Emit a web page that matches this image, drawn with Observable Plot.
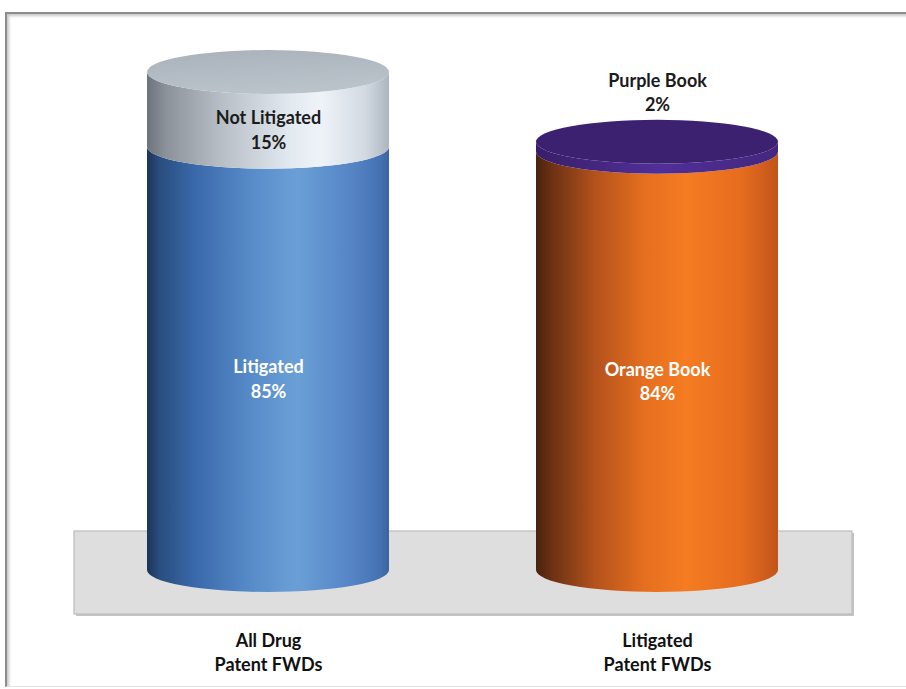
<!DOCTYPE html>
<html><head><meta charset="utf-8">
<script src="https://cdn.jsdelivr.net/npm/d3@7"></script>
<script src="https://cdn.jsdelivr.net/npm/@observablehq/plot@0.6"></script>
<style>
html,body{margin:0;padding:0;background:#fff;}
#wrap{position:relative;width:906px;height:689px;overflow:hidden;}
#frame{position:absolute;left:5px;top:12px;width:1000px;height:672px;border-top:2px solid #8c8c8c;border-left:2px solid #8c8c8c;border-bottom:1px solid #e2e2e2;box-shadow:inset 2px 2px 3px rgba(0,0,0,0.22);pointer-events:none;}
#chart{position:absolute;left:0;top:0;}
</style></head><body>
<div id="wrap"><div id="frame"></div><div id="chart"></div></div>
<script>
// ---- data ----
const categories = ["All Drug\nPatent FWDs", "Litigated\nPatent FWDs"];
const baseLabels = ["Litigated", "Orange Book"];
const baseValues = [85, 84];
const capLabels = ["Not Litigated", "Purple Book"];
const capValues = [15, 2];

// ---- styles ----
const sideGradients = {
  "Litigated": [[0,"#1c3456"],[0.05,"#294d7e"],[0.2,"#3a69ab"],[0.45,"#5a8ecb"],[0.62,"#6a9fd6"],[0.85,"#5584c5"],[0.97,"#4470b0"],[1,"#3a63a0"]],
  "Not Litigated": [[0,"#6c737b"],[0.08,"#8b929a"],[0.3,"#b6bdc5"],[0.6,"#e4eaf1"],[0.72,"#eef3f8"],[0.9,"#d3dae2"],[1,"#adb6c0"]],
  "Orange Book": [[0,"#48220e"],[0.06,"#6a3014"],[0.25,"#b5531c"],[0.45,"#e66f1f"],[0.62,"#f57c22"],[0.85,"#e66c1f"],[1,"#c2551a"]],
  "Purple Book": [[0,"#381e68"],[0.5,"#512f98"],[1,"#43277e"]]
};
const topColors = {"Litigated":"#5b8ccb","Not Litigated":"#b0b8c1","Orange Book":"#f07a2a","Purple Book":"#3c2171"};
const textColors = {"Litigated":"#ffffff","Not Litigated":"#1b1b1b","Orange Book":"#ffffff","Purple Book":"#1b1b1b"};
const ry = 22;          // ellipse vertical radius (perspective)
const floorDepth = 83;  // floor plane height in px
const font = "Lato, 'Open Sans', sans-serif";

// ---- table built from the arrays ----
const rows = [];
categories.forEach((c, i) => {
  rows.push({category: c, label: baseLabels[i], value: baseValues[i], y1: 0, y2: baseValues[i]});
  rows.push({category: c, label: capLabels[i], value: capValues[i], y1: baseValues[i], y2: baseValues[i] + capValues[i]});
});
rows.forEach(r => { r.mid = (r.y1 + r.y2) / 2; r.text = r.label + "\n" + r.value + "%"; });
const inside = rows.filter(r => r.value >= 10);
const outside = rows.filter(r => r.value < 10);

function cylinders(index, scales, values, dimensions) {
  const {x, y} = scales;
  const {width, height, marginLeft, marginRight, marginBottom} = dimensions;
  const g = d3.create("svg:g");
  const defs = g.append("defs");
  for (const [name, stops] of Object.entries(sideGradients)) {
    const lg = defs.append("linearGradient").attr("id", "side-" + name.replace(/\s/g, "_"))
      .attr("x1", 0).attr("x2", 1).attr("y1", 0).attr("y2", 0);
    for (const [o, c] of stops) lg.append("stop").attr("offset", o).attr("stop-color", c);
  }
  const tg = defs.append("linearGradient").attr("id", "top-gray").attr("x1", 0).attr("x2", 0.3).attr("y1", 0).attr("y2", 1);
  tg.append("stop").attr("offset", 0).attr("stop-color", "#a9b1ba");
  tg.append("stop").attr("offset", 1).attr("stop-color", "#bac2ca");
  // floor
  const fy = height - marginBottom - floorDepth;
  g.append("rect").attr("x", marginLeft + 2).attr("y", fy + 2).attr("width", width - marginLeft - marginRight).attr("height", floorDepth)
    .attr("fill", "#c4c4c4");
  g.append("rect").attr("x", marginLeft).attr("y", fy).attr("width", width - marginLeft - marginRight).attr("height", floorDepth)
    .attr("fill", "#dedede").attr("stroke", "#bcbcbc").attr("stroke-width", 1.2);
  const bw = x.bandwidth ? x.bandwidth() : 243;
  const rx = bw / 2;
  for (const cat of categories) {
    const segs = rows.filter(r => r.category === cat);
    const xl = x(cat), xr = xl + bw, cx = xl + rx;
    segs.forEach((s, k) => {
      const y0 = y(s.y1), y1 = y(s.y2);
      const p = `M${xl},${y1}L${xl},${y0}A${rx},${ry} 0 0 0 ${xr},${y0}L${xr},${y1}A${rx},${ry} 0 0 1 ${xl},${y1}Z`;
      g.append("path").attr("d", p).attr("fill", `url(#side-${s.label.replace(/\s/g, "_")})`);
      if (k === segs.length - 1) {
        g.append("ellipse").attr("cx", cx).attr("cy", y1).attr("rx", rx).attr("ry", ry)
          .attr("fill", s.label === "Not Litigated" ? "url(#top-gray)" : topColors[s.label]);
      }
    });
  }
  return g.node();
}

const chart = Plot.plot({
  width: 906,
  height: 689,
  marginLeft: 74,
  marginRight: 54,
  marginTop: 40,
  marginBottom: 75,
  style: {background: "transparent", fontFamily: font},
  x: {type: "band", domain: categories, paddingInner: 0.377, paddingOuter: 0.186, axis: null},
  y: {domain: [0, 100], range: [570, 72], axis: null},
  marks: [
    cylinders,
    Plot.text(inside, {x: "category", y: "mid", text: "text", dy: 19, lineHeight: 1.36,
      fill: d => textColors[d.label], fontSize: 18, fontWeight: "bold", fontFamily: font}),
    Plot.text(outside, {x: "category", y: "y2", text: "text", dy: -51, lineHeight: 1.36,
      fill: d => textColors[d.label], fontSize: 18, fontWeight: "bold", fontFamily: font}),
    Plot.text(categories, {x: d => d, text: d => d, frameAnchor: "bottom", lineAnchor: "top", dy: 15, lineHeight: 1.36,
      fill: "#111", fontSize: 18, fontWeight: "bold", fontFamily: font})
  ]
});
document.getElementById("chart").appendChild(chart);
</script>
</body></html>
